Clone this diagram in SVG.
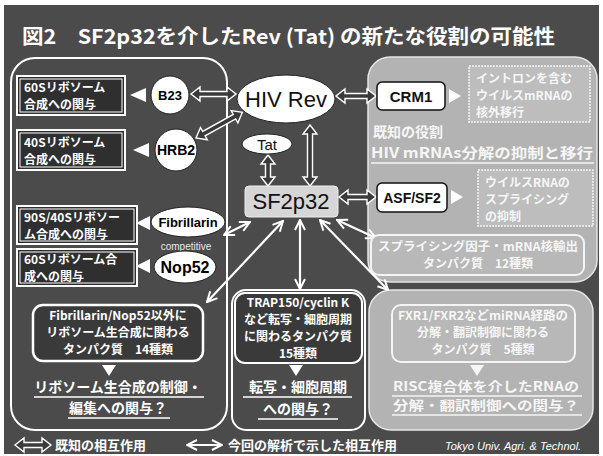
<svg xmlns="http://www.w3.org/2000/svg" width="603" height="456" viewBox="0 0 603 456">
<style>
.jp{font-family:"Noto Sans CJK JP","Liberation Sans",sans-serif;font-weight:bold;fill:#fff}
.lat{font-family:"Liberation Sans","Noto Sans CJK JP",sans-serif}
.dbox{fill:#2f2f2f;stroke:#fff;stroke-width:2}
.dinner{fill:none;stroke:#fff;stroke-width:1}
.node{fill:#fff;stroke:#222;stroke-width:1}
.tri{fill:#fff}
.hol{fill:#3a3a3a;stroke:#fff;stroke-width:1.4;stroke-linejoin:miter}
.new{stroke:#fff;stroke-width:2.2;fill:none;marker-start:url(#oh);marker-end:url(#oh)}
.ul{stroke:#fff;stroke-width:1.6}
.rp{fill:#b3b3b3;stroke:#e6e6e6;stroke-width:1.5}
.rt{font-family:"Noto Sans CJK JP","Liberation Sans",sans-serif;font-weight:bold;fill:#f6f6f6}
</style>
<defs>
<marker id="oh" viewBox="0 0 12 12" refX="11" refY="6" markerWidth="12" markerHeight="12" markerUnits="userSpaceOnUse" orient="auto-start-reverse">
<path d="M1,1 L11,6 L1,11" fill="none" stroke="#fff" stroke-width="2"/>
</marker>
</defs>
<rect x="0" y="0" width="603" height="456" fill="#fff"/>
<rect x="4" y="5" width="595" height="449" fill="#4b4b4b"/>
<text class="jp" x="22" y="44" font-size="20" textLength="533" lengthAdjust="spacingAndGlyphs">図2　SF2p32を介したRev (Tat) の新たな役割の可能性</text>

<!-- panels -->
<rect id="leftPanel" x="11" y="58" width="216" height="372" rx="24" fill="none" stroke="#fff" stroke-width="2"/>
<g id="rightTopPanel">
<rect class="rp" x="368" y="57" width="229" height="225" rx="22"/>
</g>
<g id="rightBottomPanel">
<rect class="rp" x="369" y="290" width="224" height="140" rx="22"/>
</g>
<g id="centerPanel">
<rect x="232" y="290" width="133" height="140" rx="14" fill="none" stroke="#fff" stroke-width="2"/>
</g>

<!-- connectors -->
<g id="connectors">
<!-- known (hollow) -->
<polygon class="hol" transform="translate(191,94)" points="0,0 9,-7 9,-2.5 36,-2.5 36,-7 45,0 36,7 36,2.5 9,2.5 9,7"/>
<polygon class="hol" transform="translate(196,138) rotate(-29)" points="0,0 9,-7 9,-2.5 44,-2.5 44,-7 53,0 44,7 44,2.5 9,2.5 9,7"/>
<polygon class="hol" transform="translate(336,96)" points="0,0 9,-7 9,-2.5 31,-2.5 31,-7 40,0 31,7 31,2.5 9,2.5 9,7"/>
<polygon class="hol" transform="translate(310,125) rotate(90)" points="0,0 9,-7 9,-2.5 52,-2.5 52,-7 61,0 52,7 52,2.5 9,2.5 9,7"/>
<polygon class="hol" transform="translate(268,155) rotate(90)" points="0,0 9,-7 9,-2.5 22,-2.5 22,-7 31,0 22,7 22,2.5 9,2.5 9,7"/>
<polygon class="hol" transform="translate(339,197)" points="0,0 9,-7 9,-2.5 28,-2.5 28,-7 37,0 28,7 28,2.5 9,2.5 9,7"/>
<!-- new (single line) -->
<line class="new" x1="250" y1="222" x2="224" y2="235"/>
<line class="new" x1="283" y1="221" x2="207" y2="302"/>
<line class="new" x1="300" y1="220" x2="300" y2="289"/>
<line class="new" x1="337" y1="220" x2="376" y2="238"/>
<line class="new" x1="320" y1="220" x2="388" y2="290"/>
</g>

<!-- left side nodes -->
<g id="box60S">
<rect class="dbox" x="17" y="76" width="108" height="39"/>
<rect class="dinner" x="20" y="79" width="102" height="33"/>
<text class="jp" x="24" y="92" font-size="12">60Sリボソーム</text>
<text class="jp" x="24" y="109" font-size="12">合成への関与</text>
</g>
<g id="box40S">
<rect class="dbox" x="17" y="130" width="108" height="40"/>
<rect class="dinner" x="20" y="133" width="102" height="34"/>
<text class="jp" x="24" y="147" font-size="12">40Sリボソーム</text>
<text class="jp" x="24" y="164" font-size="12">合成への関与</text>
</g>
<g id="box90S">
<rect class="dbox" x="17" y="206" width="120" height="38"/>
<rect class="dinner" x="20" y="209" width="114" height="32"/>
<text class="jp" x="24" y="222" font-size="12">90S/40Sリボソー</text>
<text class="jp" x="24" y="239" font-size="12">ム合成への関与</text>
</g>
<g id="box60S2">
<rect class="dbox" x="17" y="249" width="120" height="37"/>
<rect class="dinner" x="20" y="252" width="114" height="31"/>
<text class="jp" x="24" y="264" font-size="12">60Sリボソーム合</text>
<text class="jp" x="24" y="281" font-size="12">成への関与</text>
</g>
<polygon class="tri" points="130,95 146,88 146,102"/>
<polygon class="tri" points="133,150 149,143 149,157"/>
<polygon class="tri" points="136,223 150,216 150,230"/>
<polygon class="tri" points="136,266 150,259 150,273"/>
<g id="B23">
<circle class="node" cx="170" cy="95" r="19"/>
<text class="lat" x="170" y="100" font-size="13" font-weight="bold" text-anchor="middle">B23</text>
</g>
<g id="HRB2">
<circle class="node" cx="176" cy="150" r="21"/>
<text class="lat" x="176" y="155" font-size="14" font-weight="bold" text-anchor="middle">HRB2</text>
</g>
<g id="Fibrillarin">
<ellipse class="node" cx="188" cy="222" rx="37" ry="15"/>
<text class="lat" x="188" y="227" font-size="13" font-weight="bold" text-anchor="middle">Fibrillarin</text>
</g>
<text class="lat" x="186" y="250" font-size="10" fill="#e8e8e8" text-anchor="middle">competitive</text>
<g id="Nop52">
<ellipse class="node" cx="185" cy="267" rx="31" ry="16"/>
<text class="lat" x="185" y="273" font-size="16" font-weight="bold" text-anchor="middle">Nop52</text>
</g>
<g id="boxRibo14">
<rect x="33" y="305" width="170" height="56" rx="10" fill="#3a3a3a" stroke="#fff" stroke-width="2.5"/>
<text class="jp" x="118" y="320" font-size="12" text-anchor="middle">Fibrillarin/Nop52以外に</text>
<text class="jp" x="118" y="337" font-size="12" text-anchor="middle">リボソーム生合成に関わる</text>
<text class="jp" x="118" y="354" font-size="12" text-anchor="middle">タンパク質　14種類</text>
</g>
<polygon class="tri" points="102,365 116,365 109,376"/>
<g id="riboQ">
<text class="jp" x="118" y="392" font-size="14" text-anchor="middle">リボソーム生合成の制御・</text>
<line class="ul" x1="34" y1="397" x2="204" y2="397"/>
<text class="jp" x="118" y="413" font-size="14" text-anchor="middle">編集への関与？</text>
<line class="ul" x1="68" y1="418" x2="170" y2="418"/>
</g>

<!-- center nodes -->
<g id="HIVRev">
<ellipse class="node" cx="286" cy="99" rx="49" ry="24"/>
<text class="lat" x="286" y="107" font-size="22" text-anchor="middle" fill="#111">HIV Rev</text>
</g>
<g id="Tat">
<ellipse class="node" cx="267" cy="144" rx="25" ry="10"/>
<text class="lat" x="267" y="150" font-size="15" text-anchor="middle" fill="#111">Tat</text>
</g>
<g id="SF2p32">
<rect x="245" y="186" width="93" height="31" rx="4" fill="#d6d6d6" stroke="#eee" stroke-width="1"/>
<text class="lat" x="291" y="209" font-size="22" text-anchor="middle" fill="#111">SF2p32</text>
</g>
<g id="boxTRAP">
<rect x="235" y="293" width="127" height="70" rx="10" fill="#3a3a3a" stroke="#fff" stroke-width="2"/>
<text class="jp" x="298" y="307" font-size="12" text-anchor="middle">TRAP150/cyclin K</text>
<text class="jp" x="298" y="324" font-size="12" text-anchor="middle">など転写・細胞周期</text>
<text class="jp" x="298" y="341" font-size="12" text-anchor="middle">に関わるタンパク質</text>
<text class="jp" x="298" y="358" font-size="12" text-anchor="middle">15種類</text>
</g>
<polygon class="tri" points="289,365 303,365 296,376"/>
<g id="trapQ">
<text class="jp" x="298" y="392" font-size="14" text-anchor="middle">転写・細胞周期</text>
<line class="ul" x1="243" y1="397" x2="352" y2="397"/>
<text class="jp" x="298" y="414" font-size="14" text-anchor="middle">への関与？</text>
<line class="ul" x1="258" y1="419" x2="338" y2="419"/>
</g>

<!-- right top -->
<g id="CRM1">
<rect x="377" y="82" width="68" height="28" rx="5" fill="#fff" stroke="#111" stroke-width="1.5"/>
<text class="lat" x="411" y="102" font-size="15" font-weight="bold" text-anchor="middle" fill="#111">CRM1</text>
</g>
<polygon class="tri" points="449,89 449,103 461,96"/>
<g id="boxExport">
<rect x="469" y="66" width="121" height="56" fill="#bdbdbd" stroke="#f4f4f4" stroke-width="1.5" stroke-dasharray="2,1"/>
<text class="rt" x="476" y="83" font-size="12">イントロンを含む</text>
<text class="rt" x="476" y="100" font-size="12">ウイルスmRNAの</text>
<text class="rt" x="476" y="117" font-size="12">核外移行</text>
</g>
<text class="rt" x="373" y="137" font-size="14">既知の役割</text>
<text class="rt" x="371" y="158" font-size="14" textLength="222" lengthAdjust="spacingAndGlyphs">HIV mRNAs分解の抑制と移行</text>
<line x1="371" y1="163" x2="594" y2="163" stroke="#f4f4f4" stroke-width="1.6"/>
<g id="ASFSF2">
<rect x="377" y="183" width="70" height="29" rx="5" fill="#fff" stroke="#111" stroke-width="1.5"/>
<text class="lat" x="412" y="203" font-size="14" font-weight="bold" text-anchor="middle" fill="#111">ASF/SF2</text>
</g>
<polygon class="tri" points="451,190 451,204 463,197"/>
<g id="boxSplice">
<rect x="478" y="170" width="115" height="56" fill="#bdbdbd" stroke="#f4f4f4" stroke-width="1.5" stroke-dasharray="2,1"/>
<text class="rt" x="485" y="187" font-size="12">ウイルスRNAの</text>
<text class="rt" x="485" y="204" font-size="12">スプライシング</text>
<text class="rt" x="485" y="221" font-size="12">の抑制</text>
</g>
<g id="boxSplicing12">
<rect x="371" y="235" width="213" height="40" rx="8" fill="#b8b8b8" stroke="#f4f4f4" stroke-width="2"/>
<text class="rt" x="478" y="251" font-size="12" text-anchor="middle" textLength="200" lengthAdjust="spacingAndGlyphs">スプライシング因子・mRNA核輸出</text>
<text class="rt" x="478" y="268" font-size="12" text-anchor="middle">タンパク質　12種類</text>
</g>

<!-- right bottom -->
<g id="boxRISC">
<rect x="392" y="305" width="183" height="57" rx="9" fill="#b8b8b8" stroke="#f4f4f4" stroke-width="2"/>
<text class="rt" x="483" y="320" font-size="12" text-anchor="middle" textLength="170" lengthAdjust="spacingAndGlyphs">FXR1/FXR2などmiRNA経路の</text>
<text class="rt" x="483" y="337" font-size="12" text-anchor="middle">分解・翻訳制御に関わる</text>
<text class="rt" x="483" y="354" font-size="12" text-anchor="middle">タンパク質　5種類</text>
</g>
<polygon points="470,365 484,365 477,376" fill="#f6f6f6"/>
<g id="riscQ">
<text class="rt" x="486" y="391" font-size="13" text-anchor="middle" textLength="186" lengthAdjust="spacingAndGlyphs">RISC複合体を介したRNAの</text>
<line x1="392" y1="396" x2="582" y2="396" stroke="#f4f4f4" stroke-width="1.6"/>
<text class="rt" x="486" y="410" font-size="13" text-anchor="middle" textLength="186" lengthAdjust="spacingAndGlyphs">分解・翻訳制御への関与？</text>
<line x1="392" y1="415" x2="582" y2="415" stroke="#f4f4f4" stroke-width="1.6"/>
</g>

<!-- legend -->
<g id="legend">
<polygon class="hol" transform="translate(15,445)" points="0,0 9,-7 9,-2.5 27,-2.5 27,-7 36,0 27,7 27,2.5 9,2.5 9,7"/>
<text class="jp" x="55" y="450" font-size="13">既知の相互作用</text>
<line class="new" x1="187" y1="445" x2="222" y2="445"/>
<text class="jp" x="228" y="450" font-size="13">今回の解析で示した相互作用</text>
<text class="lat" x="445" y="450" font-size="11" font-style="italic" fill="#fff">Tokyo Univ. Agri. &amp; Technol.</text>
</g>
</svg>
